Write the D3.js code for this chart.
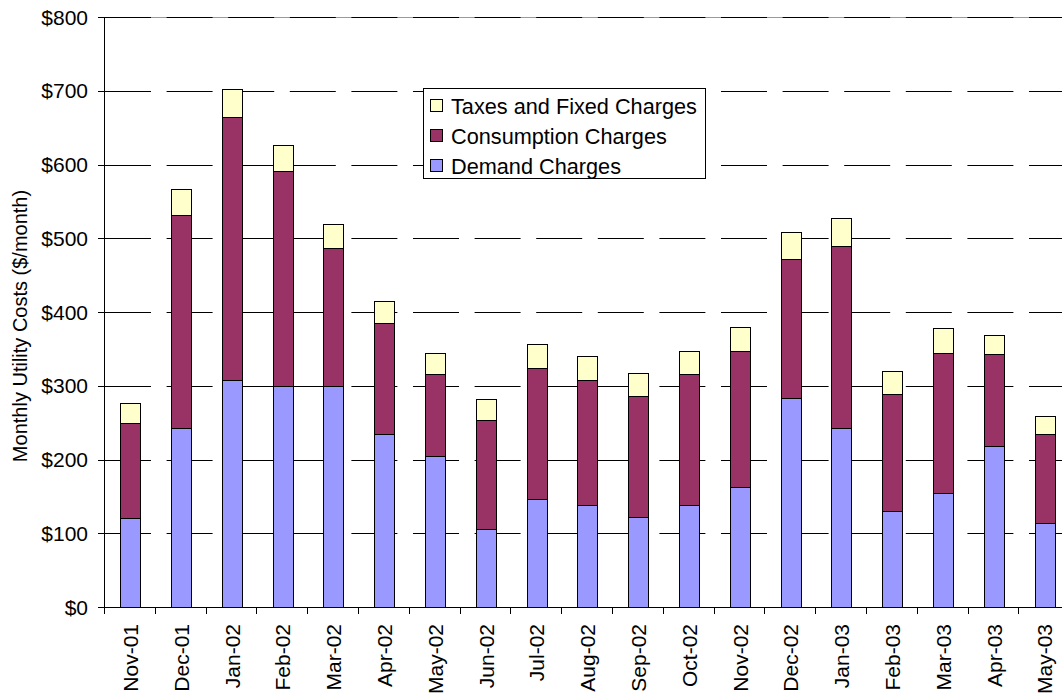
<!DOCTYPE html>
<html>
<head>
<meta charset="utf-8">
<script src="https://cdn.jsdelivr.net/npm/d3@7/dist/d3.min.js"></script>
<style>
  html, body { margin: 0; padding: 0; background: #fff; }
  svg { display: block; }
  text { font-family: "Liberation Sans", Arial, sans-serif; fill: #000; }
</style>
</head>
<body>
<svg id="chart" width="1062" height="696"></svg>
<script>
// Monthly utility costs, Nov 2001 – May 2003 ($/month)
const months = ["Nov-01","Dec-01","Jan-02","Feb-02","Mar-02","Apr-02","May-02","Jun-02","Jul-02",
                "Aug-02","Sep-02","Oct-02","Nov-02","Dec-02","Jan-03","Feb-03","Mar-03","Apr-03","May-03"];
const demandCharges      = [121, 243, 308, 300, 300, 235, 205, 106, 146, 138, 122, 138, 163, 283, 243, 130, 155, 218, 114];
const consumptionCharges = [129, 289, 357, 291, 187, 150, 111, 148, 178, 170, 164, 178, 184, 189, 247, 159, 189, 125, 121];
const taxesFixedCharges  = [ 27,  35,  37,  35,  32,  30,  28,  28,  32,  32,  31,  31,  33,  36,  38,  31,  34,  26,  24];
const yTicks = [0, 100, 200, 300, 400, 500, 600, 700, 800];

const seriesNames  = ["Demand Charges", "Consumption Charges", "Taxes and Fixed Charges"];
const seriesColors = ["#9999FF", "#993366", "#FFFFCC"];

const rows = months.map((m, i) => ({
  month: m,
  "Demand Charges": demandCharges[i],
  "Consumption Charges": consumptionCharges[i],
  "Taxes and Fixed Charges": taxesFixedCharges[i]
}));

const svg = d3.select("#chart");
const plotLeft = 105, plotTop = 17, plotBottom = 607;
const step = 50.8;
const plotRight = plotLeft + step * months.length;

const x = d3.scaleBand().domain(months).range([plotLeft, plotRight]).paddingInner(0.6).paddingOuter(0.3);
const y = d3.scaleLinear().domain([0, 800]).range([plotBottom, plotTop]);

const crisp = v => Math.round(v) + 0.5;

// gridlines
const grid = svg.append("g");
grid.append("line")
  .attr("x1", plotLeft).attr("x2", plotRight)
  .attr("y1", crisp(y(800))).attr("y2", crisp(y(800)))
  .attr("stroke", "#9a9a9a");
grid.selectAll("line.g").data(yTicks.filter(d => d > 0)).join("line")
  .attr("class", "g")
  .attr("x1", plotLeft).attr("x2", plotRight)
  .attr("y1", d => crisp(y(d))).attr("y2", d => crisp(y(d)))
  .attr("stroke", "#000")
  .attr("stroke-dasharray", "46,15.6");

// stacked bars
const stack = d3.stack().keys(seriesNames)(rows);
svg.append("g").selectAll("g").data(stack).join("g")
  .attr("fill", (d, i) => seriesColors[i])
  .selectAll("rect").data(d => d).join("rect")
  .attr("x", d => Math.round(x(d.data.month)) + 0.5)
  .attr("width", Math.round(x.bandwidth()))
  .attr("y", d => crisp(y(d[1])))
  .attr("height", d => crisp(y(d[0])) - crisp(y(d[1])))
  .attr("stroke", "#000")
  .attr("stroke-width", 1);

// y axis
const yAxis = svg.append("g");
yAxis.append("line")
  .attr("x1", crisp(plotLeft) - 1).attr("x2", crisp(plotLeft) - 1)
  .attr("y1", plotTop).attr("y2", plotBottom + 6)
  .attr("stroke", "#000");
yAxis.selectAll("line.t").data(yTicks).join("line")
  .attr("class", "t")
  .attr("x1", plotLeft - 7).attr("x2", plotLeft)
  .attr("y1", d => crisp(y(d))).attr("y2", d => crisp(y(d)))
  .attr("stroke", "#000");
yAxis.selectAll("text").data(yTicks).join("text")
  .attr("x", 88).attr("y", d => y(d))
  .attr("dy", "0.36em")
  .attr("text-anchor", "end")
  .style("font-size", "21px")
  .text(d => "$" + d);

// x axis
const xAxis = svg.append("g");
xAxis.append("line")
  .attr("x1", plotLeft - 7).attr("x2", plotRight)
  .attr("y1", crisp(plotBottom)).attr("y2", crisp(plotBottom))
  .attr("stroke", "#000");
const boundaries = d3.range(months.length + 1).map(i => plotLeft + i * step);
xAxis.selectAll("line.t").data(boundaries).join("line")
  .attr("class", "t")
  .attr("x1", d => Math.round(d) - 0.5).attr("x2", d => Math.round(d) - 0.5)
  .attr("y1", plotBottom).attr("y2", plotBottom + 7)
  .attr("stroke", "#000");
xAxis.selectAll("text").data(months).join("text")
  .attr("transform", d => `translate(${x(d) + x.bandwidth() / 2 + 7.5},624) rotate(-90)`)
  .attr("text-anchor", "end")
  .style("font-size", "21px")
  .text(d => d);

// axis title
svg.append("text")
  .attr("transform", "translate(27,326) rotate(-90)")
  .attr("text-anchor", "middle")
  .style("font-size", "20px")
  .text("Monthly Utility Costs ($/month)");

// legend
const legend = svg.append("g");
legend.append("rect")
  .attr("x", 423.5).attr("y", 88.5).attr("width", 282).attr("height", 90)
  .attr("fill", "#fff").attr("stroke", "#000");
const legendItems = [2, 1, 0];
legend.selectAll("g").data(legendItems).join("g")
  .attr("transform", (d, i) => `translate(0,${106 + i * 30})`)
  .each(function (d) {
    const g = d3.select(this);
    g.append("rect")
      .attr("x", 430.5).attr("y", -6.5).attr("width", 12).attr("height", 12)
      .attr("fill", seriesColors[d]).attr("stroke", "#000");
    g.append("text")
      .attr("x", 451).attr("y", 0).attr("dy", "0.36em")
      .style("font-size", "21.7px")
      .text(seriesNames[d]);
  });
</script>
</body>
</html>
